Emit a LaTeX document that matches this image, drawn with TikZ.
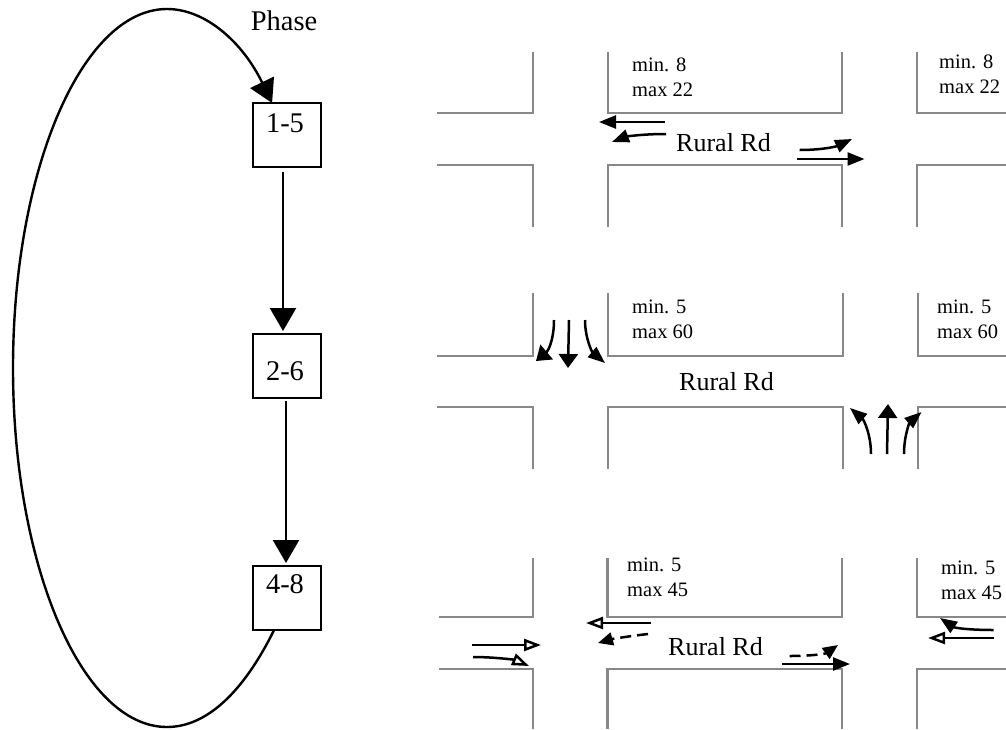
\documentclass[tikz,border=0pt]{standalone}
\usepackage{fontspec}
\setmainfont{Liberation Serif}
\usetikzlibrary{arrows.meta}
\definecolor{roadgray}{HTML}{888888}
\tikzset{
  phasebox/.style={draw,line width=2.4pt,minimum width=68pt,minimum height=64pt,inner sep=0pt,outer sep=0pt},
  phasetext/.style={font=\fontsize{28.5}{30}\selectfont,inner sep=0pt},
  flow/.style={line width=2.4pt,-{Triangle[length=23pt,width=26pt]}},
  road/.style={color=roadgray,line width=2.6pt},
  timing/.style={font=\fontsize{20.5}{24.5}\selectfont,align=left,anchor=base west,inner sep=0pt},
  roadname/.style={font=\fontsize{26}{28}\selectfont,anchor=base west,inner sep=0pt},
  move/.style={line width=2.5pt,-{Triangle[length=17pt,width=13pt]}},
  movebig/.style={line width=2.5pt,-{Triangle[length=14pt,width=19pt]}},
  moveopen/.style={line width=2.5pt,-{Triangle[open,length=17pt,width=12pt,fill=white]}},
  moveprot/.style={line width=2.5pt,dash pattern=on 11pt off 6pt,-{Triangle[length=15pt,width=13pt]}}
}
\begin{document}
\begin{tikzpicture}[x=1pt,y=-1pt]
\useasboundingbox (0,0) rectangle (1006,729);

\node[phasetext] (phase) at (284,21) {Phase};
\node[phasebox] (n15) at (287,135) {};
\node[phasebox] (n26) at (287,366) {};
\node[phasebox] (n48) at (287,598) {};
\node[phasetext] (t15) at (285,123) {1-5};
\node[phasetext] (t26) at (285,371) {2-6};
\node[phasetext] (t48) at (285,584) {4-8};

\draw[flow,shorten <=5pt,shorten >=3pt] ([xshift=-4pt]n15.south) -- ([xshift=-4pt]n26.north);
\draw[flow,shorten <=3pt,shorten >=3pt] ([xshift=-1pt]n26.south) -- ([xshift=-1pt]n48.north);
\draw[flow] (n48.-112) .. controls (243,693) and (206,727) .. (167,727)
  .. controls (82,727) and (13,566) .. (13,368)
  .. controls (13,170) and (82,9) .. (167,9)
  .. controls (206,9) and (243,43) .. (n15.115);

% first phase
\draw[road] (533,52) -- (533,113) -- (437,113);
\draw[road] (608,52) -- (608,113) -- (842,113) -- (842,52);
\draw[road] (917,52) -- (917,113) -- (1006,113);
\draw[road] (533,227) -- (533,165) -- (437,165);
\draw[road] (608,227) -- (608,165) -- (842,165) -- (842,227);
\draw[road] (917,227) -- (917,165) -- (1006,165);
\node[timing] (s1a) at (632,96) {min. 8\\max 22};
\node[timing] (s1b) at (939,93) {min. 8\\max 22};
\node[roadname] (r1) at (676,151) {Rural Rd};
\draw[move] (664.5,122) -- (599,122);
\draw[move] (666,134) .. controls (640,134) and (625,137) .. (612,142);
\draw[move] (799.5,150) .. controls (820,150) and (835,147) .. (852,139);
\draw[move] (797,159) -- (864.5,159);

% second phase
\draw[road] (533,293) -- (533,356) -- (437,356);
\draw[road] (608,293) -- (608,356) -- (843,356) -- (843,293);
\draw[road] (918,293) -- (918,356) -- (1006,356);
\draw[road] (533,469) -- (533,407) -- (437,407);
\draw[road] (608,469) -- (608,407) -- (843,407) -- (843,469);
\draw[road] (918,469) -- (918,407) -- (1006,407);
\node[timing] (s2a) at (632,338) {min. 5\\max 60};
\node[timing] (s2b) at (937,338) {min. 5\\max 60};
\node[roadname] (r2) at (679,390) {Rural Rd};
\draw[movebig] (554,320) .. controls (554,338) and (549,350) .. (536,361);
\draw[movebig] (569,320) -- (568,368);
\draw[move] (585,320) .. controls (585,338) and (592,352) .. (605,363);
\draw[move] (871,454) .. controls (871,435) and (864,420) .. (850,408);
\draw[movebig] (887,454) -- (888,404);
\draw[move] (904,454) .. controls (904,435) and (910,422) .. (921.5,412);

% third phase
\draw[road] (533,558) -- (533,617) -- (439,617);
\draw[road] (607.5,558) -- (607.5,617) -- (842,617) -- (842,558);
\draw[road] (917,558) -- (917,617) -- (1006,617);
\draw[road] (533,729) -- (533,669) -- (439,669);
\draw[road] (607.5,729) -- (607.5,669) -- (842,669) -- (842,729);
\draw[road] (917,729) -- (917,669) -- (1006,669);
\node[timing] (s3a) at (627,596) {min. 5\\max 45};
\node[timing] (s3b) at (941,599) {min. 5\\max 45};
\node[roadname] (r3) at (668,655) {Rural Rd};
\draw[moveopen] (651,623) -- (586,623);
\draw[moveprot] (648,634) .. controls (630,636) and (612,639) .. (598,643);
\draw[moveprot] (789.5,656) .. controls (810,656) and (825,654) .. (838,645);
\draw[move] (782,664) -- (850,664);
\draw[moveopen] (472,645) -- (541,645);
\draw[moveopen] (473,657) .. controls (495,657) and (515,660) .. (529,666);
\draw[move] (993.5,630) .. controls (970,630) and (955,628) .. (940,618);
\draw[moveopen] (993.5,638) -- (928,638);

\end{tikzpicture}
\end{document}
